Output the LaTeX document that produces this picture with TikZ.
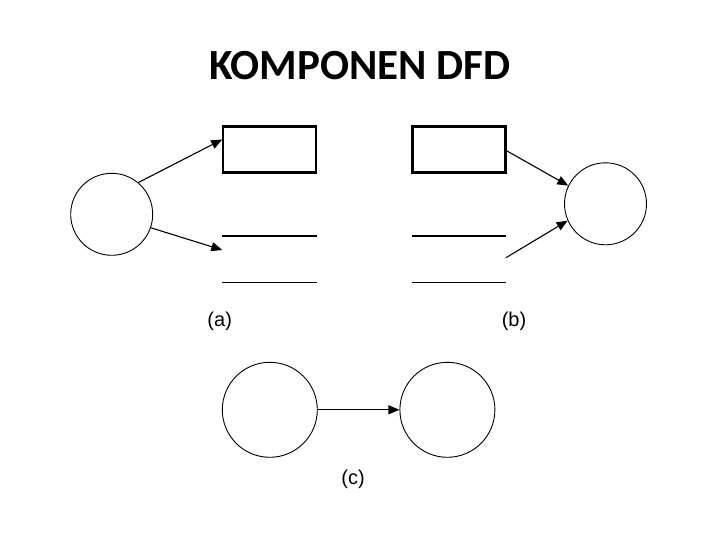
\documentclass[tikz,border=0pt]{standalone}
\usepackage{fontspec}
\setmainfont{Liberation Sans}
\newfontfamily\titlefont{Carlito}
\usetikzlibrary{arrows.meta,positioning,calc}

\begin{document}
\begin{tikzpicture}[
    x=1pt, y=-1pt,
    proc/.style={
        draw=black, line width=0.9pt, circle,
        minimum size=#1, inner sep=0pt
    },
    proc/.default=82pt,
    entity/.style={
        draw=black, line width=2.2pt,
        minimum width=93pt, minimum height=46pt, inner sep=0pt
    },
    storeline/.style={draw=black, line width=#1},
    flow/.style={-{Triangle[length=11pt,width=9pt]}, line width=1.1pt},
    caption/.style={font=\fontsize{20}{22}\selectfont, anchor=base}
]
    \useasboundingbox (0,0) rectangle (720,540);

    % Title
    \node[font=\titlefont\bfseries\fontsize{43}{48}\selectfont, anchor=base]
        (title) at (360,80) {KOMPONEN DFD};

    % (a) process feeding an entity and a store
    \node[proc] (procA) at (111.7,214.3) {};
    \node[entity] (entA) at (269.8,149.5) {};
    \coordinate (dsAtl) at (222.3,235.7);
    \coordinate (dsAtr) at (317.3,235.7);
    \coordinate (dsAbl) at (222.3,282.3);
    \coordinate (dsAbr) at (317.3,282.3);
    \draw[storeline=2pt] (dsAtl) -- (dsAtr);
    \draw[storeline=1pt] (dsAbl) -- (dsAbr);
    \draw[flow] (procA.50) -- ([yshift=10pt]entA.west);
    \draw[flow] (procA.-19) -- ([yshift=-14.3pt]dsAtl);
    \node[caption] (capA) at (219.7,326.5) {(a)};

    % (b) entity and store feeding a process
    \node[entity] (entB) at (458.9,149.5) {};
    \node[proc] (procB) at (605.5,203.8) {};
    \coordinate (dsBtl) at (411.7,235.7);
    \coordinate (dsBtr) at (506,235.7);
    \coordinate (dsBbl) at (411.7,282.3);
    \coordinate (dsBbr) at (506,282.3);
    \draw[storeline=2pt] (dsBtl) -- (dsBtr);
    \draw[storeline=1pt] (dsBbl) -- (dsBbr);
    \draw[flow] ([yshift=-1.2pt]entB.east) -- (procB.154);
    \draw[flow] ([yshift=-22pt]dsBtr) -- (procB.204);
    \node[caption] (capB) at (514,326.5) {(b)};

    % (c) process to process
    \node[proc=95pt] (procC) at (269.8,409.8) {};
    \node[proc=95pt, right=81.7pt of procC] (procD) {};
    \draw[flow] (procC) -- (procD);
    \node[caption] (capC) at (353,484) {(c)};

\end{tikzpicture}
\end{document}
